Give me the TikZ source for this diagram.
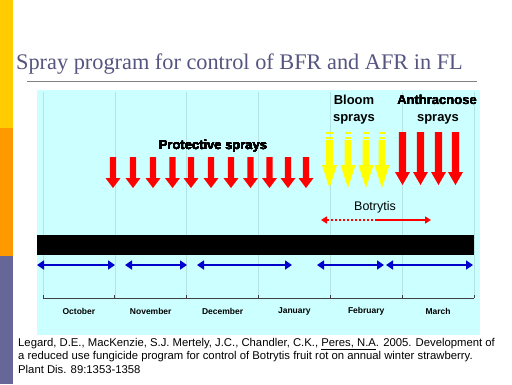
\documentclass[tikz,border=0pt]{standalone}
\usepackage{fontspec}
\setmainfont{Liberation Sans}
\newfontfamily\titlefont{Liberation Serif}
\usetikzlibrary{arrows.meta}
\definecolor{leftyellow}{HTML}{FFCC00}
\definecolor{leftorange}{HTML}{FF9900}
\definecolor{leftpurple}{HTML}{666699}
\definecolor{titlecol}{HTML}{55557F}
\definecolor{panelcol}{HTML}{CCFFFF}
\definecolor{gridcol}{HTML}{B4E4E4}
\definecolor{arrred}{HTML}{FF0000}
\definecolor{arryel}{HTML}{FFFF00}
\definecolor{arrblue}{HTML}{0000CC}
\tikzset{
  lbl/.style={inner sep=0pt, font=\bfseries\fontsize{13}{15}\selectfont},
  monthlbl/.style={inner sep=0pt, font=\bfseries\fontsize{8.5}{9}\selectfont},
  bluearr/.style={draw=arrblue, line width=2.3pt, {Triangle[width=9pt,length=7pt]}-{Triangle[width=9pt,length=7pt]}},
  botarr/.style={draw=arrred, line width=2.2pt},
}
% \sprayarr{x}{top}{headstart}{tip}{shaft half}{head half}{colour}
\newcommand\sprayarr[7]{%
  \fill[#7] (#1-#5,#2) -- (#1+#5,#2) -- (#1+#5,#3) -- (#1+#6,#3) -- (#1,#4)
    -- (#1-#6,#3) -- (#1-#5,#3) -- cycle;}
\begin{document}
\begin{tikzpicture}[x=1pt,y=-1pt]
\useasboundingbox (0,0) rectangle (512,384);
\fill[white] (0,0) rectangle (512,384);
% left colour bar
\fill[fill=leftyellow] (0,0) rectangle (12.5,128);
\fill[fill=leftorange] (0,128) rectangle (12.5,256);
\fill[fill=leftpurple] (0,256) rectangle (12.5,384);
% title
\node[anchor=base west, inner sep=0pt, text=titlecol,
  font=\titlefont\fontsize{22.3}{26}\selectfont] (title) at (16,69)
  {Spray program for control of BFR and AFR in FL};
\draw[gray, line width=0.9pt] (27,81) -- (477,81);
% panel
\fill[panelcol] (37,90) rectangle (480,335);
\foreach \i in {0,...,6}
  \draw[gridcol, line width=0.5pt] ({43+71.83*\i},92) -- ({43+71.83*\i},298);
% axis
\draw[gray!50!black, line width=0.8pt] (43,298) -- (474,298);
\foreach \i in {0,...,6}
  \draw[gray!50!black, line width=0.8pt] ({43+71.83*\i},295) -- ({43+71.83*\i},298);
\foreach \m [count=\i from 0] in {October,November,December,January,February,March}
  \node[monthlbl] (m\i) at ({78.9+71.83*\i},311) {\m};
% black bar
\fill[black] (37,235) rectangle (474,255);
% blue arrows
\coordinate (b1a) at (37,265); \coordinate (b1b) at (115,265);
\coordinate (b2a) at (125,265); \coordinate (b2b) at (187,265);
\coordinate (b3a) at (197,265); \coordinate (b3b) at (292,265);
\coordinate (b4a) at (317,265); \coordinate (b4b) at (384,265);
\coordinate (b5a) at (386,265); \coordinate (b5b) at (473,265);
\foreach \k in {1,...,5} \draw[bluearr] (b\k a) -- (b\k b);
% protective sprays
\foreach \x in {113,133,153,172.5,191,211,231,250.5,269.5,288,306}
  \sprayarr{\x}{157}{178}{188}{3.2}{7.5}{arrred}
\node[lbl] (prot) at (213,146) {Protective sprays};
% bloom sprays (yellow, dashed tops)
\foreach \x in {329.5,348,366,382}{
  \sprayarr{\x}{140}{165}{188}{3.3}{7.5}{arryel}
  \fill[arryel] (\x-3.3,131.5) rectangle (\x+3.3,134);
  \fill[arryel] (\x-3.3,136.5) rectangle (\x+3.3,139);
}
\node[lbl] (bloom) at (354,100) {Bloom};
\node[lbl] (bloom2) at (354,119) {sprays};
% anthracnose sprays
\foreach \x in {402.5,420.5,438.5,455.5}
  \sprayarr{\x}{132}{172}{185}{3.6}{7.5}{arrred}
\node[lbl] (anth) at (437,100) {Anthracnose};
\node[lbl] (anth2) at (438,119) {sprays};
% botrytis
\node[inner sep=0pt, font=\fontsize{12.5}{14}\selectfont] (botry) at (375,207) {Botrytis};
\coordinate (botL) at (321,220);
\coordinate (botM) at (377,220);
\coordinate (botR) at (431,220);
\draw[botarr, dash pattern=on 2pt off 2pt, -{Triangle[width=7pt,length=6pt]}] (botM) -- (botL);
\draw[botarr, -{Triangle[width=7pt,length=6pt]}] (botM) -- (botR);
% reference
\node[anchor=north west, inner sep=0pt, align=left,
  font=\fontsize{11.3}{13.5}\selectfont] (ref) at (18,338)
  {Legard, D.E., MacKenzie, S.J. Mertely, J.C., Chandler, C.K., \underline{Peres, N.A}. 2005. Development of\\
   a reduced use fungicide program for control of Botrytis fruit rot on annual winter strawberry.\\
   Plant Dis. 89:1353-1358};
\end{tikzpicture}
\end{document}
